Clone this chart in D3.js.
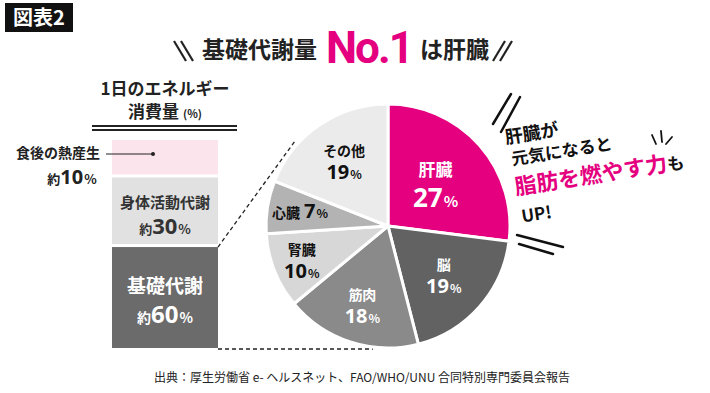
<!DOCTYPE html>
<html>
<head>
<meta charset="utf-8">
<script src="https://cdn.jsdelivr.net/npm/d3@7"></script>
<style>
  body { margin: 0; background: #fff; }
  text { font-family: "Noto Sans CJK JP", "Noto Sans", sans-serif; }
</style>
</head>
<body>
<div id="chart"></div>
<script>
// stacked bar: daily energy expenditure (%)
const barNames = ["食後の熱産生", "身体活動代謝", "基礎代謝"];
const barValues = [10, 30, 60];
const barColors = ["#fce4ec", "#e1e1e1", "#6b6b6b"];

// pie: basal metabolism by organ (%)
const organNames = ["肝臓", "脳", "筋肉", "腎臓", "心臓", "その他"];
const organValues = [27, 19, 18, 10, 7, 19];
const organColors = ["#e4007f", "#626262", "#8a8a8a", "#d7d7d7", "#b3b3b3", "#ebebeb"];
const organText = ["#fff", "#fff", "#fff", "#111", "#111", "#111"];
const labelR = [0.52, 0.61, 0.68, 0.76, 0.73, 0.64];

const W = 710, H = 393;
const magenta = "#e4007f";

const svg = d3.select("#chart").append("svg")
  .attr("width", W)
  .attr("height", H);

// badge
svg.append("rect").attr("x", 5).attr("y", 3).attr("width", 68).attr("height", 29).attr("fill", "#111");
svg.append("text").attr("x", 39).attr("y", 25).attr("text-anchor", "middle")
  .attr("fill", "#fff").attr("font-size", 20).attr("font-weight", 700).text("図表2");

// title
const title = svg.append("text").attr("y", 58).attr("font-weight", 700).attr("fill", "#222");
title.append("tspan").attr("x", 202).attr("font-size", 23).text("基礎代謝量");
title.append("tspan").attr("x", 326).attr("y", 63).attr("font-size", 44).attr("fill", magenta)
  .attr("font-family", "Roboto, 'Noto Sans', sans-serif").attr("letter-spacing", -2).text("No.1");
title.append("tspan").attr("x", 420).attr("y", 58).attr("font-size", 23).text("は肝臓");

const slash = (x1, y1, x2, y2) => svg.append("line")
  .attr("x1", x1).attr("y1", y1).attr("x2", x2).attr("y2", y2)
  .attr("stroke", "#222").attr("stroke-width", 2.2);
slash(174, 41, 186, 61); slash(181, 41, 193, 61);
slash(505, 41, 493, 61); slash(512, 41, 500, 61);

// bar header
svg.append("text").attr("x", 165).attr("y", 95).attr("text-anchor", "middle")
  .attr("font-size", 17).attr("font-weight", 700).attr("fill", "#222").text("1日のエネルギー");
const h2 = svg.append("text").attr("x", 165).attr("y", 118).attr("text-anchor", "middle")
  .attr("font-weight", 700).attr("fill", "#222");
h2.append("tspan").attr("font-size", 17).text("消費量");
h2.append("tspan").attr("font-size", 11).attr("dx", 4).text("(%)");
[126, 130].forEach(y => svg.append("line").attr("x1", 92).attr("x2", 237)
  .attr("y1", y).attr("y2", y).attr("stroke", "#222").attr("stroke-width", 2));

// stacked bar, segment heights through a power scale
const barX = 112, barW = 106, barTop = 140, barBottom = 348, gap = 3;
const hScale = d3.scalePow().exponent(0.6).domain([0, 1]).range([0, 1]);
const totalH = barBottom - barTop - gap * (barValues.length - 1);
const rawH = barValues.map(v => hScale(v));
const k = totalH / d3.sum(rawH);
let yy = barTop;
const segs = barValues.map((v, i) => {
  const h = rawH[i] * k;
  const s = { y: yy, h: h, name: barNames[i], value: v, color: barColors[i] };
  yy += h + gap;
  return s;
});

svg.selectAll("rect.seg").data(segs).join("rect")
  .attr("class", "seg")
  .attr("x", barX).attr("width", barW)
  .attr("y", d => d.y).attr("height", d => d.h)
  .attr("fill", d => d.color);

// bar labels
function pctLabel(g, x, y, value, sizes, color, anchor) {
  const t = g.append("text").attr("x", x).attr("y", y).attr("text-anchor", anchor || "middle")
    .attr("font-weight", 700).attr("fill", color);
  t.append("tspan").attr("font-size", sizes[0]).text("約");
  t.append("tspan").attr("font-size", sizes[1]).attr("font-family", "'Noto Sans', sans-serif").text(value);
  t.append("tspan").attr("font-size", sizes[2]).attr("dx", 1).text("%");
}

const s0 = segs[0];
svg.append("text").attr("x", 100).attr("y", 158).attr("text-anchor", "end")
  .attr("font-size", 14).attr("font-weight", 700).attr("fill", "#222").text(s0.name);
pctLabel(svg, 72, 184, s0.value, [13, 20, 13], "#222");
svg.append("line").attr("x1", 106).attr("x2", 153).attr("y1", s0.y + 14).attr("y2", s0.y + 14)
  .attr("stroke", "#222").attr("stroke-width", 1);
svg.append("circle").attr("cx", 153).attr("cy", s0.y + 14).attr("r", 2).attr("fill", "#222");

const s1 = segs[1];
svg.append("text").attr("x", barX + barW / 2).attr("y", s1.y + s1.h / 2 - 3).attr("text-anchor", "middle")
  .attr("font-size", 15).attr("font-weight", 700).attr("fill", "#333").text(s1.name);
pctLabel(svg, barX + barW / 2, s1.y + s1.h / 2 + 23, s1.value, [13, 22, 13], "#333");

const s2 = segs[2];
svg.append("text").attr("x", barX + barW / 2).attr("y", s2.y + s2.h / 2 - 5).attr("text-anchor", "middle")
  .attr("font-size", 19).attr("font-weight", 700).attr("fill", "#fff").text(s2.name);
pctLabel(svg, barX + barW / 2, s2.y + s2.h / 2 + 25, s2.value, [14, 24, 14], "#fff");

// pie
const cx = 388, cy = 226, R = 122;
const pie = d3.pie().sort(null).value(d => d.value);
const arc = d3.arc().innerRadius(0).outerRadius(R);
const organs = organNames.map((n, i) => ({ name: n, value: organValues[i], color: organColors[i], text: organText[i], lr: labelR[i] }));
const arcs = pie(organs);

// dashed connectors
svg.append("line").attr("x1", barX + barW).attr("y1", s2.y).attr("x2", 295).attr("y2", 141)
  .attr("stroke", "#222").attr("stroke-width", 1.3).attr("stroke-dasharray", "4,3");
svg.append("line").attr("x1", barX + barW).attr("y1", barBottom + 1).attr("x2", 373).attr("y2", barBottom + 1)
  .attr("stroke", "#222").attr("stroke-width", 1.3).attr("stroke-dasharray", "4,3");

const pg = svg.append("g").attr("transform", `translate(${cx},${cy})`);
pg.selectAll("path").data(arcs).join("path")
  .attr("d", arc)
  .attr("fill", d => d.data.color)
  .attr("stroke", "#fff").attr("stroke-width", 3).attr("stroke-linejoin", "round");

arcs.forEach((d, i) => {
  const la = d3.arc().innerRadius(0).outerRadius(R * d.data.lr * 2);
  const [lx, ly] = la.centroid(d);
  const big = i === 0;
  if (d.data.name === "心臓") {
    const t = pg.append("text").attr("x", lx).attr("y", ly + 6).attr("text-anchor", "middle")
      .attr("font-weight", 700).attr("fill", d.data.text);
    t.append("tspan").attr("font-size", 14).text(d.data.name);
    t.append("tspan").attr("font-size", 20).attr("dx", 4).attr("font-family", "'Noto Sans', sans-serif").text(d.data.value);
    t.append("tspan").attr("font-size", 12).attr("dx", 1).text("%");
    return;
  }
  pg.append("text").attr("x", lx).attr("y", ly - (big ? 8 : 5)).attr("text-anchor", "middle")
    .attr("font-size", big ? 17 : 14).attr("font-weight", 700).attr("fill", d.data.text).text(d.data.name);
  const t = pg.append("text").attr("x", lx).attr("y", ly + (big ? 23 : 18)).attr("text-anchor", "middle")
    .attr("font-weight", 700).attr("fill", d.data.text);
  t.append("tspan").attr("font-size", big ? 26 : 20).attr("font-family", "'Noto Sans', sans-serif").text(d.data.value);
  t.append("tspan").attr("font-size", big ? 15 : 12).attr("dx", 1).text("%");
});

// annotation
const ann = svg.append("g").attr("transform", "translate(506,144) rotate(-9)");
ann.append("text").attr("x", 0).attr("y", 0).attr("font-size", 18).attr("font-weight", 700).attr("fill", "#111").text("肝臓が");
ann.append("text").attr("x", 3).attr("y", 22).attr("font-size", 17).attr("font-weight", 700).attr("fill", "#111").text("元気になると");
const a3 = ann.append("text").attr("x", 2).attr("y", 52).attr("font-weight", 700);
a3.append("tspan").attr("font-size", 22).attr("fill", magenta).text("脂肪を燃やす力");
a3.append("tspan").attr("font-size", 17).attr("fill", "#111").text("も");
ann.append("text").attr("x", 4).attr("y", 80).attr("font-size", 17).attr("font-weight", 700).attr("fill", "#111").text("UP!");

const deco = (x1, y1, x2, y2, w) => svg.append("line")
  .attr("x1", x1).attr("y1", y1).attr("x2", x2).attr("y2", y2)
  .attr("stroke", "#111").attr("stroke-width", w || 2.5).attr("stroke-linecap", "round");
deco(493, 124, 511, 94); deco(501, 132, 520, 97);
deco(517, 235, 563, 247); deco(519, 244, 553, 254);
deco(652, 135, 656, 144, 1.8); deco(661, 131, 662, 142, 1.8); deco(672, 137, 666, 144, 1.8);

// source
svg.append("text").attr("x", 362).attr("y", 382).attr("text-anchor", "middle")
  .attr("font-size", 12).attr("fill", "#222")
  .text("出典：厚生労働省 e- ヘルスネット、FAO/WHO/UNU 合同特別専門委員会報告");
</script>
</body>
</html>
